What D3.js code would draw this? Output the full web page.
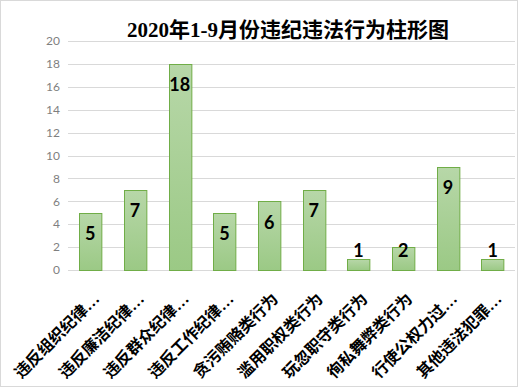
<!DOCTYPE html>
<html>
<head>
<meta charset="utf-8">
<script src="https://cdn.jsdelivr.net/npm/d3@7"></script>
<style>
  body { margin: 0; background: #fff; }
</style>
</head>
<body>
<div id="viz"></div>
<script>
const categories = ["违反组织纪律…", "违反廉洁纪律…", "违反群众纪律…", "违反工作纪律…", "贪污贿赂类行为",
  "滥用职权类行为", "玩忽职守类行为", "徇私舞弊类行为", "行使公权力过…", "其他违法犯罪…"]
const values = [5, 7, 18, 5, 6, 7, 1, 2, 9, 1]
const yTicks = [0, 2, 4, 6, 8, 10, 12, 14, 16, 18, 20]
const title = "2020年1-9月份违纪违法行为柱形图"

const width = 518
const height = 387

const svg = d3.select("#viz").append("svg")
  .attr("width", width)
  .attr("height", height)

svg.append("rect")
  .attr("x", 0.5).attr("y", 0.5)
  .attr("width", width - 1).attr("height", height - 1)
  .attr("fill", "#fff")
  .attr("stroke", "#d9d9d9")

const defs = svg.append("defs")
const grad = defs.append("linearGradient")
  .attr("id", "barGrad")
  .attr("x1", 0).attr("y1", 0).attr("x2", 0).attr("y2", 1)
grad.append("stop").attr("offset", "0%").attr("stop-color", "#b7d7a8")
grad.append("stop").attr("offset", "100%").attr("stop-color", "#9bc985")

const x = d3.scaleBand()
  .domain(categories)
  .range([68, 515])
  .paddingInner(0.5)
  .paddingOuter(0.25)

const y = d3.scaleLinear()
  .domain([0, 20])
  .range([270, 41])

// gridlines
svg.append("g")
  .selectAll("line")
  .data(yTicks)
  .join("line")
  .attr("x1", 68).attr("x2", 515)
  .attr("y1", d => Math.round(y(d)) + 0.5)
  .attr("y2", d => Math.round(y(d)) + 0.5)
  .attr("stroke", "#d9d9d9")
  .attr("stroke-width", 1)

// y axis labels
svg.append("g")
  .selectAll("text")
  .data(yTicks)
  .join("text")
  .attr("x", 60)
  .attr("y", d => y(d))
  .attr("dy", "0.35em")
  .attr("text-anchor", "end")
  .attr("font-family", "Lato, 'Open Sans', sans-serif")
  .attr("font-size", 12)
  .attr("fill", "#7f7f7f")
  .text(d => d)

// bars
svg.append("g")
  .selectAll("rect")
  .data(values)
  .join("rect")
  .attr("x", (d, i) => Math.round(x(categories[i])) + 0.5)
  .attr("y", d => Math.round(y(d)) + 0.5)
  .attr("width", x.bandwidth())
  .attr("height", d => Math.round(y(0)) - Math.round(y(d)))
  .attr("fill", "url(#barGrad)")
  .attr("stroke", "#70ad47")
  .attr("stroke-width", 1)

// value labels
svg.append("g")
  .selectAll("text")
  .data(values)
  .join("text")
  .attr("x", (d, i) => x(categories[i]) + x.bandwidth() / 2)
  .attr("y", d => Math.min(y(d) + 21, 251))
  .attr("dy", "0.35em")
  .attr("text-anchor", "middle")
  .attr("font-family", "Lato, 'Open Sans', sans-serif")
  .attr("font-weight", "bold")
  .attr("font-size", 18)
  .attr("fill", "#000")
  .text(d => d)

// category labels
svg.append("g")
  .selectAll("text")
  .data(categories)
  .join("text")
  .attr("transform", d => `translate(${x(d) + x.bandwidth() / 2 + 10},${300}) rotate(-45)`)
  .attr("text-anchor", "end")
  .attr("font-family", "'Liberation Serif', 'Noto Sans CJK SC', serif")
  .attr("font-weight", "bold")
  .attr("font-size", 16)
  .attr("fill", "#000")
  .text(d => d)

// title
svg.append("text")
  .attr("x", 288)
  .attr("y", 37)
  .attr("text-anchor", "middle")
  .attr("font-family", "'Liberation Serif', 'Noto Sans CJK SC', serif")
  .attr("font-weight", "bold")
  .attr("font-size", 21)
  .attr("fill", "#000")
  .text(title)
</script>
</body>
</html>
